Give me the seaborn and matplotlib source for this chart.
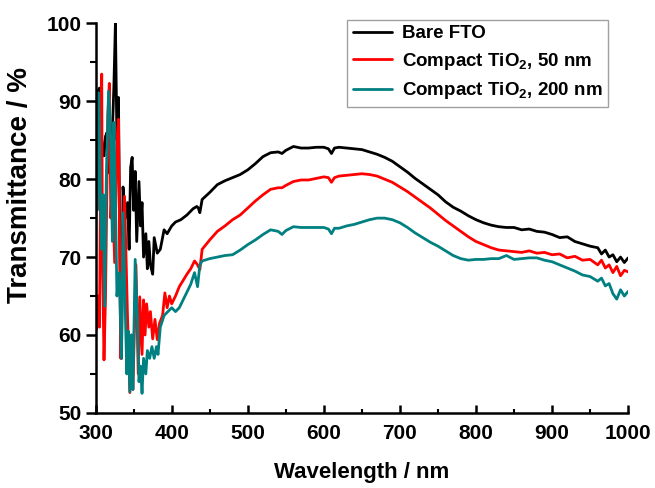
import numpy as np
import pandas as pd
import matplotlib
matplotlib.use('Agg')
import matplotlib.pyplot as plt
import seaborn as sns
from matplotlib.ticker import MultipleLocator

sns.set_style('ticks')
plt.rcParams['font.family'] = ['Liberation Sans', 'DejaVu Sans']
plt.rcParams['font.weight'] = 'bold'
plt.rcParams['text.color'] = 'black'
plt.rcParams['axes.labelcolor'] = 'black'
plt.rcParams['xtick.color'] = 'black'
plt.rcParams['ytick.color'] = 'black'
plt.rcParams['mathtext.fontset'] = 'custom'
plt.rcParams['mathtext.rm'] = 'Liberation Sans:bold'
plt.rcParams['mathtext.default'] = 'rm'

# Bare FTO
wl_fto = [300, 301, 303, 305, 307, 309, 311, 313, 315, 318, 320, 322, 324, 326, 328, 330,
          332, 334, 336, 339, 342, 344, 346, 348, 350, 352, 354, 357, 359, 361, 363, 366,
          368, 370, 372, 375, 377, 381, 385, 390, 394, 400, 405, 412, 420, 428, 433, 435,
          437, 440, 450, 460, 470, 480, 490, 500, 510, 520, 530, 540, 545, 550, 560, 570,
          580, 590, 600, 606, 610, 614, 620, 630, 640, 650, 660, 670, 680, 690, 700, 710,
          720, 730, 740, 750, 760, 770, 780, 790, 800, 810, 820, 830, 840, 850, 860, 870,
          880, 890, 900, 910, 920, 930, 940, 950, 960, 965, 970, 975, 980, 985, 990, 995, 1000]
t_fto = [88.0, 91.5, 89.0, 91.7, 86.4, 84.0, 83.0, 85.5, 86.0, 80.8, 83.0, 86.0, 92.0, 100.0,
         85.0, 90.5, 70.0, 57.0, 79.0, 75.0, 77.0, 71.0, 81.5, 82.8, 76.0, 81.0, 72.0, 79.7,
         74.0, 77.0, 70.0, 73.0, 68.5, 72.0, 69.0, 67.8, 72.5, 70.5, 71.0, 73.5, 73.0, 74.0,
         74.5, 74.8, 75.4, 76.2, 76.5, 76.3, 75.7, 77.4, 78.3, 79.3, 79.8, 80.2, 80.6, 81.2,
         82.0, 82.9, 83.4, 83.5, 83.3, 83.7, 84.2, 84.0, 84.0, 84.1, 84.1, 83.9, 83.3, 84.0,
         84.1, 84.0, 83.9, 83.8, 83.5, 83.2, 82.8, 82.3, 81.6, 80.9, 80.1, 79.4, 78.7, 78.0,
         77.1, 76.4, 75.9, 75.3, 74.8, 74.4, 74.1, 73.9, 73.8, 73.8, 73.5, 73.6, 73.3, 73.2,
         72.9, 72.5, 72.6, 72.0, 71.7, 71.4, 71.2, 70.4, 70.9, 70.0, 70.3, 69.4, 70.0, 69.3, 69.9]

# Compact TiO2, 50 nm
wl_50 = [300, 301, 303, 305, 307, 308, 309, 311, 313, 316, 318, 320, 322, 325, 328, 330,
         333, 335, 338, 342, 345, 347, 349, 351, 353, 356, 358, 361, 363, 365, 367, 370,
         372, 375, 378, 381, 384, 388, 391, 394, 397, 400, 405, 410, 415, 420, 425, 430,
         434, 437, 440, 450, 460, 470, 480, 490, 500, 510, 520, 530, 540, 545, 550, 560,
         570, 580, 590, 600, 606, 610, 614, 620, 630, 640, 650, 660, 670, 680, 690, 700,
         710, 720, 730, 740, 750, 760, 770, 780, 790, 800, 810, 820, 830, 840, 850, 860,
         870, 880, 890, 900, 910, 920, 930, 940, 950, 960, 965, 970, 975, 980, 985, 990,
         995, 1000]
t_50 = [67.0, 60.7, 65.0, 61.0, 85.0, 93.5, 70.0, 56.8, 65.0, 88.0, 92.3, 75.0, 80.0, 69.3,
        85.0, 87.7, 57.0, 70.0, 77.8, 62.0, 52.6, 60.0, 53.0, 61.0, 69.0, 55.0, 64.9, 57.5,
        64.5, 60.0, 64.0, 61.0, 63.0, 59.5, 62.0, 59.4, 61.5, 62.5, 65.4, 63.5, 65.0, 64.0,
        65.0, 66.2, 67.0, 67.8, 68.5, 69.5, 69.0, 68.4, 71.0, 72.2, 73.3, 74.0, 74.8, 75.4,
        76.3, 77.2, 78.0, 78.7, 78.9, 78.9, 79.2, 79.7, 79.9, 79.9, 80.1, 80.3, 80.2, 79.6,
        80.2, 80.4, 80.5, 80.6, 80.7, 80.6, 80.4, 80.0, 79.6, 79.0, 78.4, 77.7, 77.0, 76.3,
        75.5, 74.7, 74.0, 73.3, 72.6, 72.0, 71.6, 71.2, 70.9, 70.8, 70.7, 70.6, 70.8, 70.5,
        70.6, 70.3, 70.4, 69.9, 70.1, 69.6, 69.7, 69.0, 69.6, 68.6, 69.0, 68.0, 68.8, 67.6,
        68.3, 68.1]

# Compact TiO2, 200 nm
wl_200 = [300, 301, 302, 304, 306, 308, 310, 312, 314, 317, 320, 322, 324, 326, 328, 331,
          334, 336, 339, 341, 343, 345, 347, 349, 352, 355, 357, 359, 361, 363, 366, 368,
          371, 374, 377, 380, 382, 385, 390, 395, 400, 405, 410, 415, 420, 425, 430, 434,
          437, 440, 450, 460, 470, 480, 490, 500, 510, 520, 530, 540, 545, 550, 560, 570,
          580, 590, 600, 606, 610, 614, 620, 630, 640, 650, 660, 670, 680, 690, 700, 710,
          720, 730, 740, 750, 760, 770, 780, 790, 800, 810, 820, 830, 840, 850, 860, 870,
          880, 890, 900, 910, 920, 930, 940, 950, 960, 965, 970, 975, 980, 985, 990, 995, 1000]
t_200 = [68.0, 86.8, 76.0, 91.1, 80.0, 71.0, 78.0, 63.7, 80.0, 91.3, 85.0, 72.0, 87.3, 78.0,
         65.0, 68.0, 57.0, 75.7, 63.0, 55.0, 60.5, 52.7, 60.0, 53.0, 69.7, 62.0, 54.0, 56.0,
         52.5, 57.0, 55.0, 58.0, 57.0, 58.5, 57.0, 58.5, 57.5, 61.0, 62.5, 63.0, 63.5, 63.0,
         63.5, 64.5, 65.5, 66.5, 68.0, 66.2, 69.0, 69.5, 69.8, 70.0, 70.2, 70.3, 70.9, 71.6,
         72.2, 72.9, 73.5, 73.3, 72.9, 73.4, 73.9, 73.8, 73.8, 73.8, 73.8, 73.6, 73.0, 73.7,
         73.7, 74.0, 74.2, 74.5, 74.8, 75.0, 75.0, 74.8, 74.4, 73.8, 73.1, 72.5, 71.9, 71.4,
         70.8, 70.2, 69.8, 69.6, 69.7, 69.7, 69.8, 69.8, 70.2, 69.7, 69.8, 69.9, 69.9, 69.6,
         69.4, 69.0, 68.6, 68.2, 67.7, 67.5, 66.9, 67.3, 66.3, 66.6, 65.3, 64.6, 65.8, 65.0, 65.6]

labels = ['Bare FTO', 'Compact TiO$_2$, 50 nm', 'Compact TiO$_2$, 200 nm']
colors = ['#000000', '#ff0000', '#008080']

fig = plt.figure(figsize=(6.55, 4.88), dpi=100)
ax = fig.add_axes([0.146, 0.154, 0.813, 0.798])

for wl, t, lab, col in zip([wl_fto, wl_50, wl_200], [t_fto, t_50, t_200], labels, colors):
    sns.lineplot(x=wl, y=t, ax=ax, color=col, linewidth=2.0, label=lab, estimator=None)

ax.set_xlim(300, 1000)
ax.set_ylim(50, 100)
ax.xaxis.set_major_locator(MultipleLocator(100))
ax.xaxis.set_minor_locator(MultipleLocator(50))
ax.yaxis.set_major_locator(MultipleLocator(10))
ax.yaxis.set_minor_locator(MultipleLocator(5))
sns.despine(ax=ax)
for s in ['left', 'bottom']:
    ax.spines[s].set_linewidth(1.8)
    ax.spines[s].set_color('black')
ax.tick_params(axis='x', which='major', direction='in', length=6, width=1.8, labelsize=15, pad=8)
ax.tick_params(axis='x', which='minor', direction='in', length=3, width=1.5)
ax.tick_params(axis='y', which='major', direction='out', length=7, width=1.8, labelsize=15, pad=3)
ax.tick_params(axis='y', which='minor', direction='out', length=4, width=1.5)
for lbl in ax.get_xticklabels() + ax.get_yticklabels():
    lbl.set_fontweight('bold')

ax.set_xlabel('Wavelength / nm', fontsize=16, fontweight='bold', labelpad=14)
ax.set_ylabel('Transmittance / %', fontsize=20, fontweight='bold')
ax.yaxis.set_label_coords(-0.118, 0.585)

leg = ax.legend(loc='upper right', bbox_to_anchor=(0.962, 1.01), borderaxespad=0,
                frameon=True, fancybox=False, handlelength=2.1, handletextpad=0.5,
                borderpad=0.3, labelspacing=0.45, prop={'weight': 'bold', 'size': 13.5})
leg.get_frame().set_edgecolor('#888888')
leg.get_frame().set_linewidth(1.0)

fig.savefig('out.png', dpi=100)
